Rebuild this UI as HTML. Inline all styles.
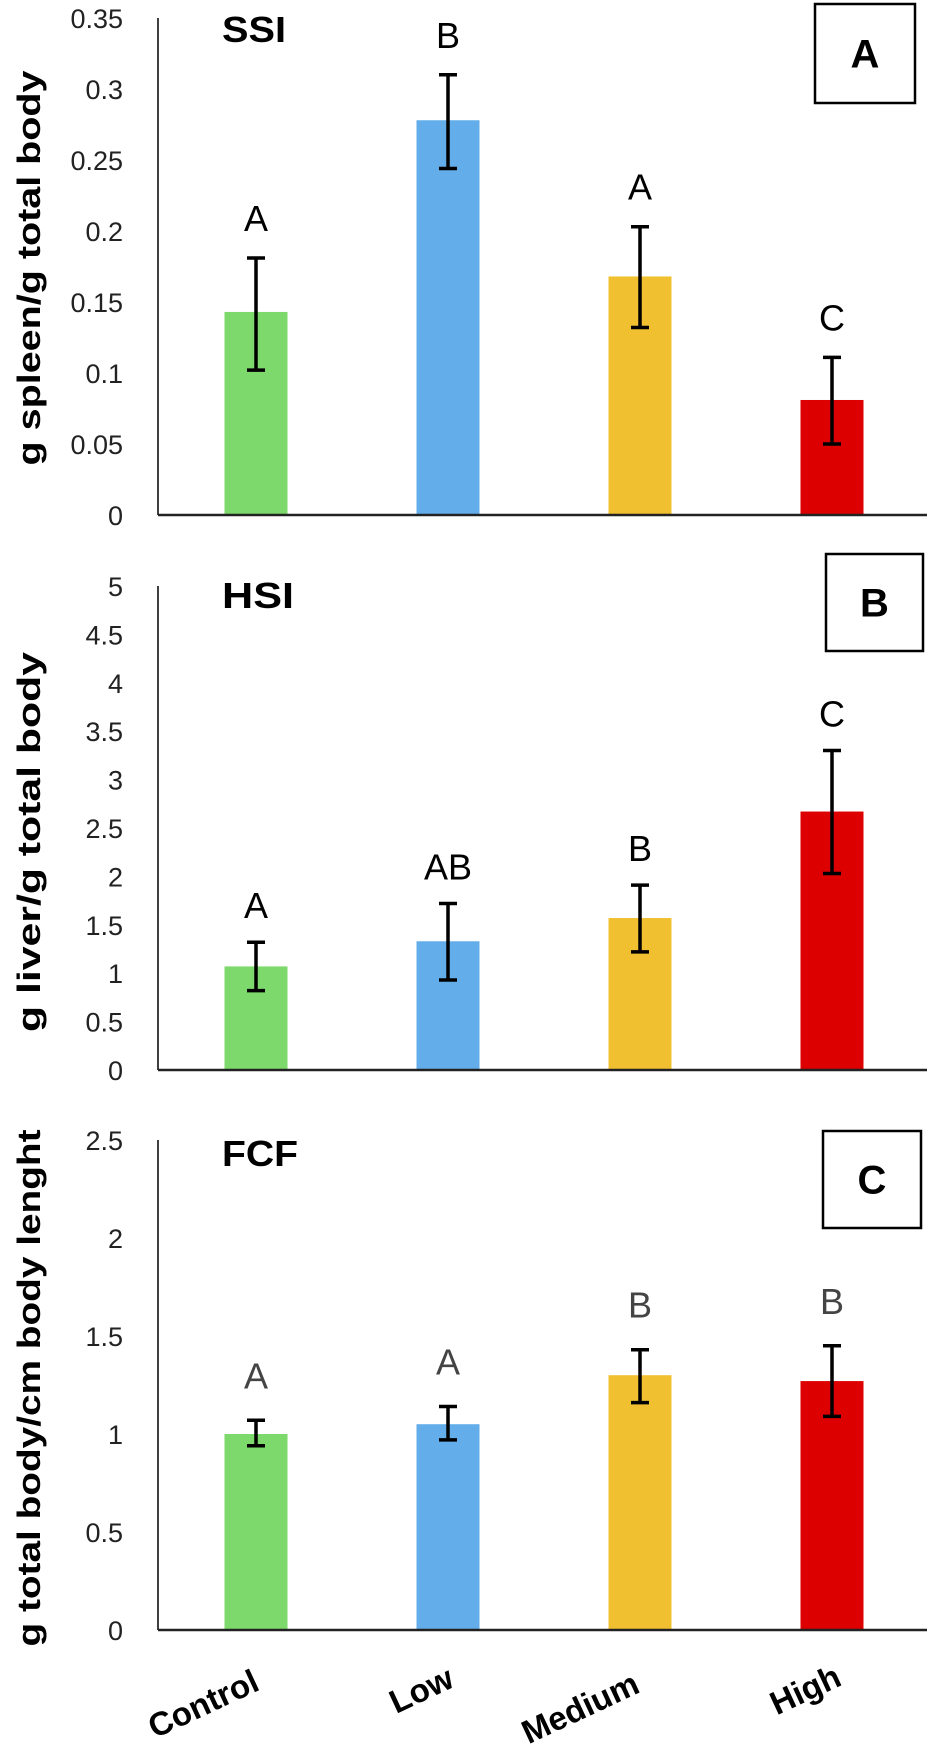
<!DOCTYPE html>
<html><head><meta charset="utf-8"><style>
html,body{margin:0;padding:0;background:#fff}
svg{display:block}
text{font-family:"Liberation Sans",sans-serif}
</style></head><body>
<svg id="chart" width="927" height="1758" viewBox="0 0 927 1758" xmlns="http://www.w3.org/2000/svg"></svg>
<script>
const categories = ["Control","Low","Medium","High"];
const colors = ["#7dd96b","#63aeea","#f0c030","#dd0000"];
const ssiValues = [0.143,0.278,0.168,0.081];
const ssiErrHi = [0.181,0.310,0.203,0.111];
const ssiErrLo = [0.102,0.244,0.132,0.050];
const ssiLetters = ["A","B","A","C"];
const ssiTicks = ["0","0.05","0.1","0.15","0.2","0.25","0.3","0.35"];
const hsiValues = [1.07,1.33,1.57,2.67];
const hsiErrHi = [1.32,1.72,1.91,3.30];
const hsiErrLo = [0.82,0.93,1.22,2.03];
const hsiLetters = ["A","AB","B","C"];
const hsiTicks = ["0","0.5","1","1.5","2","2.5","3","3.5","4","4.5","5"];
const fcfValues = [1.00,1.05,1.30,1.27];
const fcfErrHi = [1.07,1.14,1.43,1.45];
const fcfErrLo = [0.94,0.97,1.16,1.09];
const fcfLetters = ["A","A","B","B"];
const fcfTicks = ["0","0.5","1","1.5","2","2.5"];

const NS="http://www.w3.org/2000/svg";
const svg=document.getElementById('chart');
function mk(tag,attrs,parent){const e=document.createElementNS(NS,tag);for(const k in attrs)e.setAttribute(k,attrs[k]);(parent||svg).appendChild(e);return e;}
const centers=[256,448,640,832];
const barW=63;
const axisX=158;

function panel(cfg){
  const g=mk('g',{});
  
  
  const y=v=>cfg.base-(v/cfg.max)*(cfg.base-cfg.top);
  cfg.ticks.forEach(t=>{
    const tx=mk('text',{x:123,y:y(parseFloat(t))+10,'text-anchor':'end','font-size':27,fill:'#222'},g);
    
    
    tx.textContent=t;
  });
  cfg.values.forEach((v,i)=>{
    const r=mk('rect',{x:centers[i]-barW/2,y:y(v),width:barW,height:cfg.base-y(v),fill:colors[i]},g);
    
    
    const eg=mk('g',{stroke:'#000','stroke-width':3.5},g);
    
    
    mk('line',{x1:centers[i],x2:centers[i],y1:y(cfg.hi[i]),y2:y(cfg.lo[i])},eg);
    mk('line',{x1:centers[i]-9,x2:centers[i]+9,y1:y(cfg.hi[i]),y2:y(cfg.hi[i])},eg);
    mk('line',{x1:centers[i]-9,x2:centers[i]+9,y1:y(cfg.lo[i]),y2:y(cfg.lo[i])},eg);
    const lt=mk('text',{x:centers[i],y:y(cfg.hi[i])-cfg.letterGap,'text-anchor':'middle','font-size':36,fill:cfg.letterColor},g);
    
    
    lt.textContent=cfg.letters[i];
  });
  const ya=mk('line',{x1:axisX,x2:axisX,y1:cfg.top,y2:cfg.base,stroke:'#000','stroke-width':1.5},g);
  
  
  const xa=mk('line',{x1:axisX,x2:927,y1:cfg.base,y2:cfg.base,stroke:'#222','stroke-width':2.5},g);
  
  
  const ti=mk('text',{x:222,y:cfg.titleY,'font-size':36,'font-weight':'bold',fill:'#000',textLength:cfg.titleLen,lengthAdjust:'spacingAndGlyphs'},g);
  
  
  ti.textContent=cfg.title;
  const bx=mk('rect',{x:cfg.box[0],y:cfg.box[1],width:cfg.box[2],height:cfg.box[3],fill:'#fff',stroke:'#000','stroke-width':2.5},g);
  
  
  const bl=mk('text',{x:cfg.box[0]+cfg.box[2]/2,y:cfg.box[1]+cfg.box[3]/2+14,'text-anchor':'middle','font-size':40,'font-weight':'bold'},g);
  
  
  bl.textContent=cfg.label;
  const yt=mk('text',{x:0,y:0,transform:`translate(40,${cfg.ytCenter}) rotate(-90)`,'text-anchor':'middle','font-size':32,'font-weight':'bold',textLength:cfg.ytLen,lengthAdjust:'spacingAndGlyphs'},g);
  
  
  yt.textContent=cfg.ytitle;
}
panel({name:'ssi',top:18,base:515,max:0.35,ticks:ssiTicks,values:ssiValues,hi:ssiErrHi,lo:ssiErrLo,letters:ssiLetters,letterGap:27,letterColor:'#000',title:'SSI',titleY:42,titleLen:64,label:'A',box:[815,4,100,99],ytitle:'g spleen/g total body',ytCenter:268,ytLen:395});
panel({name:'hsi',top:586,base:1070,max:5,ticks:hsiTicks,values:hsiValues,hi:hsiErrHi,lo:hsiErrLo,letters:hsiLetters,letterGap:24,letterColor:'#000',title:'HSI',titleY:608,titleLen:72,label:'B',box:[826,554,97,97],ytitle:'g liver/g total body',ytCenter:842,ytLen:380});
panel({name:'fcf',top:1140,base:1630,max:2.5,ticks:fcfTicks,values:fcfValues,hi:fcfErrHi,lo:fcfErrLo,letters:fcfLetters,letterGap:32,letterColor:'#444',title:'FCF',titleY:1166,titleLen:76,label:'C',box:[823,1131,98,97],ytitle:'g total body/cm body lenght',ytCenter:1388,ytLen:517});
const catPos=[[208,1714],[426,1700],[585,1718],[810,1700]];
categories.forEach((c,i)=>{
  const t=mk('text',{x:0,y:0,transform:`translate(${catPos[i][0]},${catPos[i][1]}) rotate(-25)`,'text-anchor':'middle','font-size':33,'font-weight':'bold'});
  
  
  t.textContent=c;
});
</script>
</body></html>
